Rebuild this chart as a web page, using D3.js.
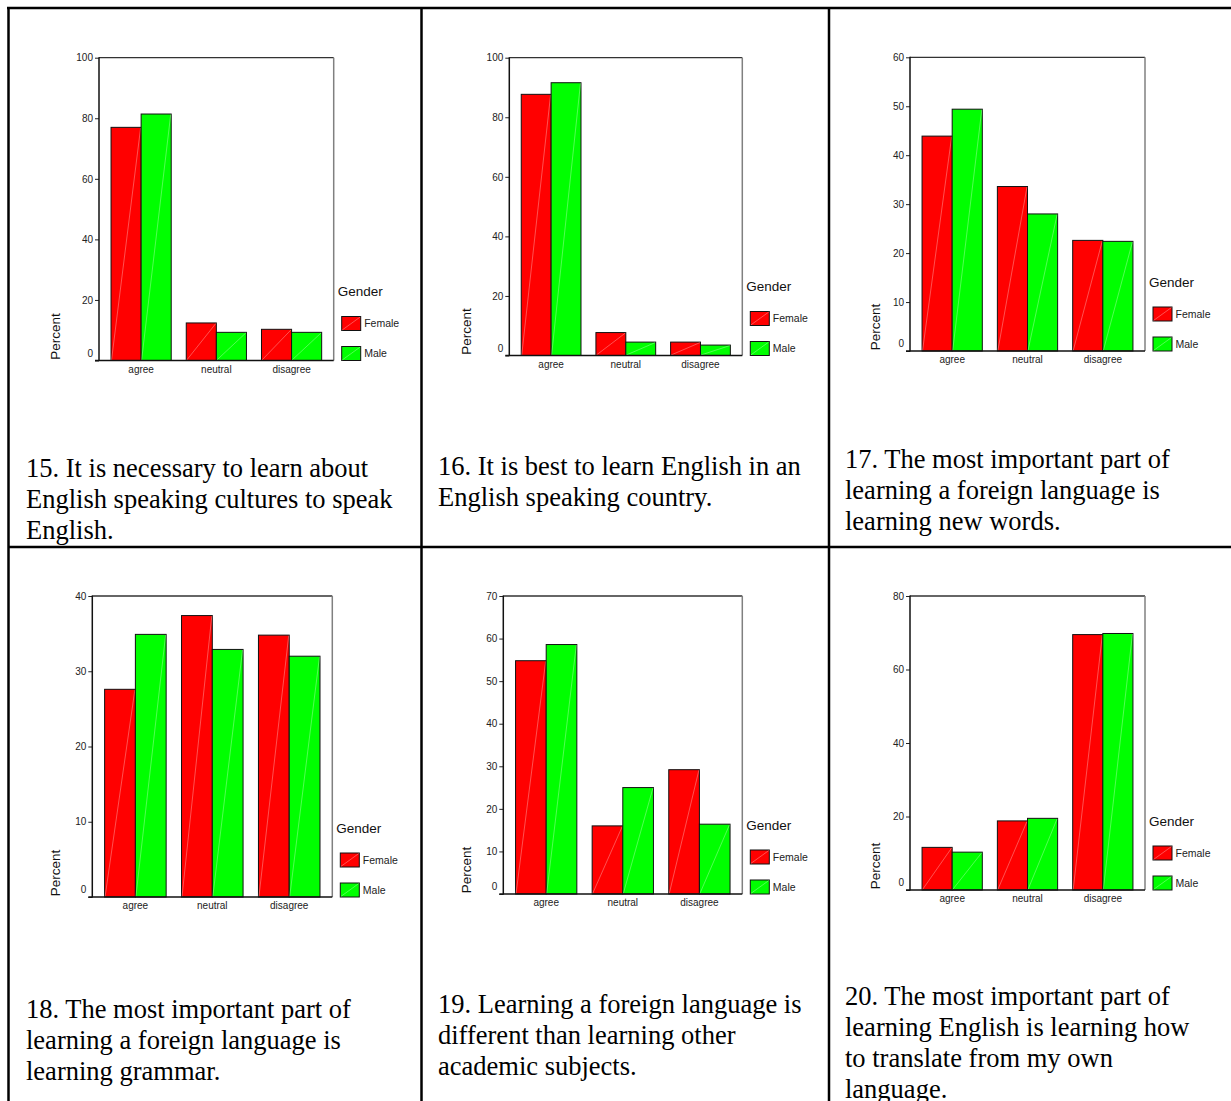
<!DOCTYPE html>
<html><head><meta charset="utf-8">
<script src="https://cdn.jsdelivr.net/npm/d3@7"></script>
<style>body{margin:0;background:#fff;} svg{display:block}</style>
</head><body><svg id="c" width="1231" height="1101"></svg>
<script>
// ---- data ----
const categories = ["agree", "neutral", "disagree"];
const seriesNames = ["Female", "Male"];
const seriesColors = ["#ff0000", "#00ff00"];

const q15Female = [77.0, 12.4, 10.3];
const q15Male   = [81.4, 9.3, 9.3];
const q16Female = [87.7, 7.7, 4.5];
const q16Male   = [91.6, 4.5, 3.5];
const q17Female = [43.9, 33.6, 22.6];
const q17Male   = [49.4, 28.0, 22.4];
const q18Female = [27.6, 37.4, 34.8];
const q18Male   = [34.9, 32.9, 32.0];
const q19Female = [54.8, 16.0, 29.2];
const q19Male   = [58.6, 25.0, 16.4];
const q20Female = [11.6, 18.8, 69.5];
const q20Male   = [10.3, 19.5, 69.8];

const yMaxes = [100, 100, 60, 40, 70, 80];
const yTickLists = [
  [0, 20, 40, 60, 80, 100],
  [0, 20, 40, 60, 80, 100],
  [0, 10, 20, 30, 40, 50, 60],
  [0, 10, 20, 30, 40],
  [0, 10, 20, 30, 40, 50, 60, 70],
  [0, 20, 40, 60, 80]
];
const yTitle = "Percent";
const legendTitle = "Gender";

const captions = [
  ["15. It is necessary to learn about", "English speaking cultures to speak", "English."],
  ["16. It is best to learn English in an", "English speaking country."],
  ["17. The most important part of", "learning a foreign language is", "learning new words."],
  ["18. The most important part of", "learning a foreign language is", "learning grammar."],
  ["19. Learning a foreign language is", "different than learning other", "academic subjects."],
  ["20. The most important part of", "learning English is learning how", "to translate from my own", "language."]
];

const panelsData = [
  [q15Female, q15Male], [q16Female, q16Male], [q17Female, q17Male],
  [q18Female, q18Male], [q19Female, q19Male], [q20Female, q20Male]
];

// ---- layout (positions only) ----
const layout = [
  {L: 99,    T: 57.7, R: 333.7, B: 360.5, cx: 26,  cy: 477,   pOff: 44},
  {L: 509.3, T: 57.7, R: 742.3, B: 355.5, cx: 438, cy: 474.5, pOff: 42.6},
  {L: 910,   T: 57.3, R: 1145,  B: 351,   cx: 845, cy: 467.5, pOff: 35},
  {L: 92.3,  T: 596,  R: 332.3, B: 897,   cx: 26,  cy: 1018,  pOff: 37},
  {L: 503.3, T: 596,  R: 742.3, B: 894,   cx: 438, cy: 1013,  pOff: 36.6},
  {L: 910,   T: 596,  R: 1145,  B: 890,   cx: 845, cy: 1005,  pOff: 35}
];

const svg = d3.select("#c");
const SANS = "'Liberation Sans', Arial, Helvetica, sans-serif";
const SERIF = "'Liberation Serif', 'Times New Roman', Times, serif";

// table grid
const grid = svg.append("g").attr("stroke", "#000").attr("stroke-width", 2.5).attr("fill", "none");
grid.append("line").attr("x1", 8.5).attr("x2", 8.5).attr("y1", 7).attr("y2", 1101);
grid.append("line").attr("x1", 7).attr("x2", 1231).attr("y1", 8).attr("y2", 8);
grid.append("line").attr("x1", 421.5).attr("x2", 421.5).attr("y1", 8).attr("y2", 1101);
grid.append("line").attr("x1", 829).attr("x2", 829).attr("y1", 8).attr("y2", 1101);
grid.append("line").attr("x1", 8).attr("x2", 1231).attr("y1", 547).attr("y2", 547);

panelsData.forEach((series, pi) => {
  const lay = layout[pi];
  const g = svg.append("g");
  const y = d3.scaleLinear().domain([0, yMaxes[pi]]).range([lay.B, lay.T]);
  const x0 = d3.scaleBand().domain(categories).range([lay.L, lay.R]).paddingInner(0.2).paddingOuter(0.16);
  const x1 = d3.scaleBand().domain(seriesNames).range([0, x0.bandwidth()]);

  // frame top & right
  g.append("line").attr("x1", lay.L).attr("x2", lay.R).attr("y1", lay.T).attr("y2", lay.T)
    .attr("stroke", "#333").attr("stroke-width", 1.3);
  g.append("line").attr("x1", lay.R).attr("x2", lay.R).attr("y1", lay.T).attr("y2", lay.B)
    .attr("stroke", "#808080").attr("stroke-width", 1.5);

  // bars
  categories.forEach((c, ci) => {
    seriesNames.forEach((s, si) => {
      const v = series[si][ci];
      const bx = x0(c) + x1(s), bw = x1.bandwidth();
      const by = y(v);
      g.append("rect").attr("x", bx).attr("y", by).attr("width", bw).attr("height", lay.B - by)
        .attr("fill", seriesColors[si]).attr("stroke", "#111").attr("stroke-width", 1);
      g.append("line").attr("x1", bx + 0.5).attr("y1", lay.B - 0.5).attr("x2", bx + bw - 0.5).attr("y2", by + 0.5)
        .attr("stroke", "#fff").attr("stroke-opacity", 0.45).attr("stroke-width", 0.7);
    });
  });

  // y axis
  const yAxis = d3.axisLeft(y).tickValues(yTickLists[pi]).tickSize(4).tickPadding(2).tickFormat(d3.format("d"));
  const ya = g.append("g").attr("transform", `translate(${lay.L},0)`).call(yAxis);
  ya.select(".domain").remove();
  ya.selectAll(".tick line").attr("stroke", "#222");
  ya.selectAll(".tick text").attr("font-family", SANS).attr("font-size", 10).attr("fill", "#222")
    .attr("dy", d => d === 0 ? "-0.45em" : "0.32em");

  // x axis
  const xAxis = d3.axisBottom(x0).tickSize(0).tickPadding(5);
  const xa = g.append("g").attr("transform", `translate(0,${lay.B})`).call(xAxis);
  xa.select(".domain").remove();
  xa.selectAll(".tick text").attr("font-family", SANS).attr("font-size", 10).attr("fill", "#222");

  // axis lines
  g.append("line").attr("x1", lay.L).attr("x2", lay.L).attr("y1", lay.T - 0.5).attr("y2", lay.B + 0.5)
    .attr("stroke", "#111").attr("stroke-width", 1.5);
  g.append("line").attr("x1", lay.L - 4).attr("x2", lay.R).attr("y1", lay.B).attr("y2", lay.B)
    .attr("stroke", "#111").attr("stroke-width", 1.5);

  // y title
  g.append("text").attr("transform", `translate(${lay.L - lay.pOff},${lay.B - 24}) rotate(-90)`)
    .attr("text-anchor", "middle").attr("dy", "0.35em")
    .attr("font-family", SANS).attr("font-size", 13.5).attr("fill", "#111").text(yTitle);

  // legend
  const lg = g.append("g");
  lg.append("text").attr("x", lay.R + 4).attr("y", lay.B - 69).attr("dy", "0.35em")
    .attr("font-family", SANS).attr("font-size", 13.5).attr("fill", "#111").text(legendTitle);
  seriesNames.forEach((s, si) => {
    const ry = si === 0 ? lay.B - 44 : lay.B - 14;
    lg.append("rect").attr("x", lay.R + 8).attr("y", ry).attr("width", 19).attr("height", 14)
      .attr("fill", seriesColors[si]).attr("stroke", "#111").attr("stroke-width", 1);
    lg.append("line").attr("x1", lay.R + 8.5).attr("y1", ry + 13.5).attr("x2", lay.R + 26.5).attr("y2", ry + 0.5)
      .attr("stroke", "#fff").attr("stroke-opacity", 0.45).attr("stroke-width", 0.7);
    lg.append("text").attr("x", lay.R + 30.5).attr("y", ry + 7).attr("dy", "0.35em")
      .attr("font-family", SANS).attr("font-size", 10.5).attr("fill", "#222").text(s);
  });

  // caption
  const cap = svg.append("text").attr("font-family", SERIF).attr("font-size", 26.5).attr("fill", "#000");
  captions[pi].forEach((line, li) => {
    cap.append("tspan").attr("x", lay.cx).attr("y", lay.cy + li * 31).text(line);
  });
});
</script>
</body></html>
